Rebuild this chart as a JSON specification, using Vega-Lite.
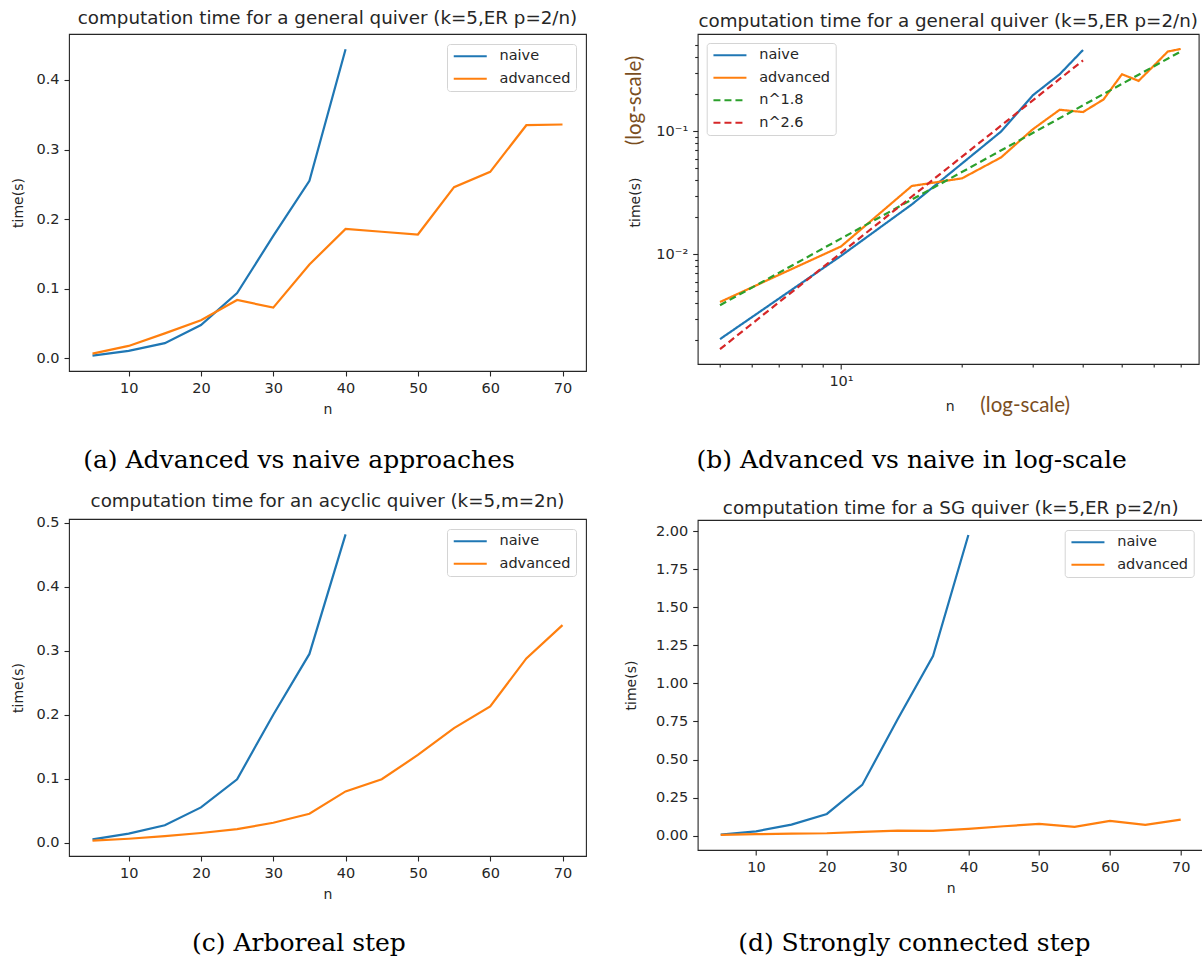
{
  "$schema": "https://vega.github.io/schema/vega-lite/v6.json",
  "background": "white",
  "padding": {"left": 11, "top": 8, "right": 0, "bottom": 0},
  "config": {
    "font": "DejaVu Sans",
    "view": {"stroke": "#262626", "strokeWidth": 1.1},
    "axis": {"grid": false, "domain": false, "tickColor": "#262626", "tickSize": 5, "tickWidth": 1.1, "labelFont": "DejaVu Sans", "labelFontSize": 14.5, "labelColor": "#262626", "labelPadding": 5, "titleFont": "DejaVu Sans", "titleFontSize": 14, "titleFontWeight": "normal", "titleColor": "#262626", "labelOverlap": false, "labelFlush": false},
    "legend": {"title": null, "symbolType": "M-1,0H5", "symbolSize": 121, "symbolStrokeWidth": 2.2, "labelFont": "DejaVu Sans", "labelFontSize": 14.5, "labelColor": "#262626", "labelOffset": 33, "rowPadding": 7.5, "padding": 5, "strokeColor": "#d4d4d4", "fillColor": "rgba(255,255,255,0.85)", "cornerRadius": 3, "offset": 10},
    "title": {"font": "DejaVu Sans", "fontSize": 18.3, "fontWeight": "normal", "color": "#262626"},
    "line": {"strokeWidth": 2.2}
  },
  "datasets": {
    "a": [
      {"n": 5, "series": "naive", "time": 0.004},
      {"n": 10, "series": "naive", "time": 0.011},
      {"n": 15, "series": "naive", "time": 0.022},
      {"n": 20, "series": "naive", "time": 0.048},
      {"n": 25, "series": "naive", "time": 0.094},
      {"n": 30, "series": "naive", "time": 0.176},
      {"n": 35, "series": "naive", "time": 0.255},
      {"n": 40, "series": "naive", "time": 0.444},
      {"n": 5, "series": "advanced", "time": 0.007},
      {"n": 10, "series": "advanced", "time": 0.018},
      {"n": 15, "series": "advanced", "time": 0.036},
      {"n": 20, "series": "advanced", "time": 0.055},
      {"n": 25, "series": "advanced", "time": 0.084},
      {"n": 30, "series": "advanced", "time": 0.073},
      {"n": 35, "series": "advanced", "time": 0.135},
      {"n": 40, "series": "advanced", "time": 0.186},
      {"n": 45, "series": "advanced", "time": 0.182},
      {"n": 50, "series": "advanced", "time": 0.178},
      {"n": 55, "series": "advanced", "time": 0.246},
      {"n": 60, "series": "advanced", "time": 0.268},
      {"n": 65, "series": "advanced", "time": 0.335},
      {"n": 70, "series": "advanced", "time": 0.336}
    ],
    "b": [
      {"n": 5, "series": "naive", "time": 0.00204},
      {"n": 10, "series": "naive", "time": 0.0097},
      {"n": 15, "series": "naive", "time": 0.0254},
      {"n": 20, "series": "naive", "time": 0.0547},
      {"n": 25, "series": "naive", "time": 0.0993},
      {"n": 30, "series": "naive", "time": 0.196},
      {"n": 35, "series": "naive", "time": 0.291},
      {"n": 40, "series": "naive", "time": 0.458},
      {"n": 5, "series": "advanced", "time": 0.00409},
      {"n": 10, "series": "advanced", "time": 0.01156},
      {"n": 15, "series": "advanced", "time": 0.0359},
      {"n": 20, "series": "advanced", "time": 0.0414},
      {"n": 25, "series": "advanced", "time": 0.0612},
      {"n": 30, "series": "advanced", "time": 0.1038},
      {"n": 35, "series": "advanced", "time": 0.1496},
      {"n": 40, "series": "advanced", "time": 0.1433},
      {"n": 45, "series": "advanced", "time": 0.1815},
      {"n": 50, "series": "advanced", "time": 0.291},
      {"n": 55, "series": "advanced", "time": 0.257},
      {"n": 60, "series": "advanced", "time": 0.341},
      {"n": 65, "series": "advanced", "time": 0.445},
      {"n": 70, "series": "advanced", "time": 0.467},
      {"n": 5, "series": "n^1.8", "time": 0.00385},
      {"n": 70, "series": "n^1.8", "time": 0.445},
      {"n": 5, "series": "n^2.6", "time": 0.00169},
      {"n": 40, "series": "n^2.6", "time": 0.377}
    ],
    "c": [
      {"n": 5, "series": "naive", "time": 0.005},
      {"n": 10, "series": "naive", "time": 0.014},
      {"n": 15, "series": "naive", "time": 0.027},
      {"n": 20, "series": "naive", "time": 0.055},
      {"n": 25, "series": "naive", "time": 0.099},
      {"n": 30, "series": "naive", "time": 0.2},
      {"n": 35, "series": "naive", "time": 0.295},
      {"n": 40, "series": "naive", "time": 0.482},
      {"n": 5, "series": "advanced", "time": 0.003},
      {"n": 10, "series": "advanced", "time": 0.006},
      {"n": 15, "series": "advanced", "time": 0.01},
      {"n": 20, "series": "advanced", "time": 0.015},
      {"n": 25, "series": "advanced", "time": 0.021},
      {"n": 30, "series": "advanced", "time": 0.031},
      {"n": 35, "series": "advanced", "time": 0.045},
      {"n": 40, "series": "advanced", "time": 0.08},
      {"n": 45, "series": "advanced", "time": 0.099},
      {"n": 50, "series": "advanced", "time": 0.137},
      {"n": 55, "series": "advanced", "time": 0.179},
      {"n": 60, "series": "advanced", "time": 0.213},
      {"n": 65, "series": "advanced", "time": 0.288},
      {"n": 70, "series": "advanced", "time": 0.34}
    ],
    "d": [
      {"n": 5, "series": "naive", "time": 0.007},
      {"n": 10, "series": "naive", "time": 0.028},
      {"n": 15, "series": "naive", "time": 0.072},
      {"n": 20, "series": "naive", "time": 0.142},
      {"n": 25, "series": "naive", "time": 0.333},
      {"n": 30, "series": "naive", "time": 0.765},
      {"n": 35, "series": "naive", "time": 1.18},
      {"n": 40, "series": "naive", "time": 1.976},
      {"n": 5, "series": "advanced", "time": 0.004},
      {"n": 10, "series": "advanced", "time": 0.009},
      {"n": 15, "series": "advanced", "time": 0.013},
      {"n": 20, "series": "advanced", "time": 0.015},
      {"n": 25, "series": "advanced", "time": 0.024},
      {"n": 30, "series": "advanced", "time": 0.033},
      {"n": 35, "series": "advanced", "time": 0.031},
      {"n": 40, "series": "advanced", "time": 0.044},
      {"n": 45, "series": "advanced", "time": 0.061},
      {"n": 50, "series": "advanced", "time": 0.077},
      {"n": 55, "series": "advanced", "time": 0.057},
      {"n": 60, "series": "advanced", "time": 0.096},
      {"n": 65, "series": "advanced", "time": 0.07},
      {"n": 70, "series": "advanced", "time": 0.105}
    ]
  },
  "columns": 2,
  "align": "none",
  "spacing": {"row": 17, "column": 36.7},
  "resolve": {"scale": {"color": "independent", "strokeDash": "independent"}},
  "concat": [
    {
      "title": {"text": "(a) Advanced vs naive approaches", "orient": "bottom", "font": "DejaVu Serif", "fontSize": 25, "color": "#000000", "fontWeight": "normal", "frame": "bounds", "anchor": "middle", "offset": 30.7},
      "resolve": {"scale": {"color": "independent"}},
      "vconcat": [
        {
          "title": {"text": "computation time for a general quiver (k=5,ER p=2/n)", "offset": 5.8},
          "width": 517, "height": 337,
          "data": {"name": "a"},
          "mark": {"type": "line", "clip": true},
          "encoding": {
            "x": {"field": "n", "type": "quantitative", "scale": {"domain": [1.75, 73.25], "nice": false, "zero": false}, "axis": {"values": [10, 20, 30, 40, 50, 60, 70], "title": "n", "titlePadding": 8}},
            "y": {"field": "time", "type": "quantitative", "scale": {"domain": [-0.018, 0.466], "nice": false, "zero": false}, "axis": {"values": [0, 0.1, 0.2, 0.3, 0.4], "format": ".1f", "title": "time(s)", "titlePadding": 10}},
            "color": {"field": "series", "type": "nominal", "scale": {"domain": ["naive", "advanced"], "range": ["#1f77b4", "#ff7f0e"]}, "legend": {"orient": "top-right"}}
          }
        }
      ]
    },
    {
      "title": {"text": "(b) Advanced vs naive in log-scale", "orient": "bottom", "font": "DejaVu Serif", "fontSize": 25, "color": "#000000", "fontWeight": "normal", "frame": "bounds", "anchor": "middle", "offset": 32},
      "resolve": {"scale": {"color": "independent", "strokeDash": "independent"}},
      "vconcat": [
        {
          "title": {"text": "computation time for a general quiver (k=5,ER p=2/n)", "offset": 3.1},
          "width": 501, "height": 330,
          "data": {"name": "b"},
          "layer": [
            {
              "mark": {"type": "line", "clip": true},
              "encoding": {
                "x": {"field": "n", "type": "quantitative", "scale": {"type": "log", "domain": [4.4, 77.6], "nice": false}, "axis": {"orient": "bottom", "values": [5, 6, 7, 8, 9, 10, 20, 30, 40, 50, 60, 70], "labelExpr": "datum.value == 10 ? '10¹' : ''", "tickSize": {"condition": {"test": "datum.value == 10", "value": 5}, "value": 3}, "title": "n", "titleX": 252, "titleY": 42, "titleBaseline": "middle"}},
                "y": {"field": "time", "type": "quantitative", "scale": {"type": "log", "domain": [0.00128, 0.618], "nice": false}, "axis": {"orient": "left", "values": [0.002, 0.003, 0.004, 0.005, 0.006, 0.007, 0.008, 0.009, 0.01, 0.02, 0.03, 0.04, 0.05, 0.06, 0.07, 0.08, 0.09, 0.1, 0.2, 0.3, 0.4, 0.5], "labelExpr": "datum.value == 0.1 ? '10⁻¹' : datum.value == 0.01 ? '10⁻²' : ''", "tickSize": {"condition": {"test": "datum.value == 0.1 || datum.value == 0.01", "value": 5}, "value": 3}, "title": "time(s)", "titleX": -62, "titleY": 168, "titleBaseline": "middle"}},
                "color": {"field": "series", "type": "nominal", "scale": {"domain": ["naive", "advanced", "n^1.8", "n^2.6"], "range": ["#1f77b4", "#ff7f0e", "#2ca02c", "#d62728"]}, "legend": {"orient": "top-left", "offset": 9}},
                "strokeDash": {"field": "series", "type": "nominal", "scale": {"domain": ["naive", "advanced", "n^1.8", "n^2.6"], "range": [[1, 0], [1, 0], [7, 4], [7, 4]]}, "legend": {"orient": "top-left", "offset": 9}}
              }
            },
            {
              "mark": {"type": "point", "opacity": 0},
              "encoding": {
                "x": {"field": "n", "type": "quantitative", "scale": {"type": "log", "domain": [4.4, 77.6], "nice": false}, "axis": {"orient": "bottom", "labels": false, "ticks": false, "domain": false, "title": "(log-scale)", "titleFont": "Lato", "titleFontSize": 20.5, "titleColor": "#7a4e1e", "titleX": 327, "titleY": 41, "titleBaseline": "middle"}},
                "y": {"field": "time", "type": "quantitative", "scale": {"type": "log", "domain": [0.00128, 0.618], "nice": false}, "axis": {"orient": "left", "labels": false, "ticks": false, "domain": false, "title": "(log-scale)", "titleFont": "Lato", "titleFontSize": 20.5, "titleColor": "#7a4e1e", "titleX": -63, "titleY": 66, "titleBaseline": "middle"}}
              }
            }
          ],
          "resolve": {"scale": {"x": "independent", "y": "independent"}}
        }
      ]
    },
    {
      "title": {"text": "(c) Arboreal step", "orient": "bottom", "font": "DejaVu Serif", "fontSize": 25, "color": "#000000", "fontWeight": "normal", "frame": "bounds", "anchor": "middle", "offset": 29.4},
      "resolve": {"scale": {"color": "independent"}},
      "vconcat": [
        {
          "title": {"text": "computation time for an acyclic quiver (k=5,m=2n)", "offset": 3.4},
          "width": 517, "height": 337,
          "data": {"name": "c"},
          "mark": {"type": "line", "clip": true},
          "encoding": {
            "x": {"field": "n", "type": "quantitative", "scale": {"domain": [1.75, 73.25], "nice": false, "zero": false}, "axis": {"values": [10, 20, 30, 40, 50, 60, 70], "title": "n", "titlePadding": 8}},
            "y": {"field": "time", "type": "quantitative", "scale": {"domain": [-0.021, 0.506], "nice": false, "zero": false}, "axis": {"values": [0, 0.1, 0.2, 0.3, 0.4, 0.5], "format": ".1f", "title": "time(s)", "titlePadding": 10}},
            "color": {"field": "series", "type": "nominal", "scale": {"domain": ["naive", "advanced"], "range": ["#1f77b4", "#ff7f0e"]}, "legend": {"orient": "top-right"}}
          }
        }
      ]
    },
    {
      "title": {"text": "(d) Strongly connected step", "orient": "bottom", "font": "DejaVu Serif", "fontSize": 25, "color": "#000000", "fontWeight": "normal", "frame": "bounds", "anchor": "middle", "offset": 35.4},
      "resolve": {"scale": {"color": "independent"}},
      "vconcat": [
        {
          "title": {"text": ["", "computation time for a SG quiver (k=5,ER p=2/n)"], "lineHeight": 7, "offset": 1.4},
          "width": 506, "height": 330,
          "data": {"name": "d"},
          "mark": {"type": "line", "clip": true},
          "encoding": {
            "x": {"field": "n", "type": "quantitative", "scale": {"domain": [1.75, 73.25], "nice": false, "zero": false}, "axis": {"values": [10, 20, 30, 40, 50, 60, 70], "title": "n", "titlePadding": 8}},
            "y": {"field": "time", "type": "quantitative", "scale": {"domain": [-0.095, 2.075], "nice": false, "zero": false}, "axis": {"values": [0, 0.25, 0.5, 0.75, 1, 1.25, 1.5, 1.75, 2], "format": ".2f", "title": "time(s)", "titlePadding": 16.5}},
            "color": {"field": "series", "type": "nominal", "scale": {"domain": ["naive", "advanced"], "range": ["#1f77b4", "#ff7f0e"]}, "legend": {"orient": "top-right"}}
          }
        }
      ]
    }
  ]
}
